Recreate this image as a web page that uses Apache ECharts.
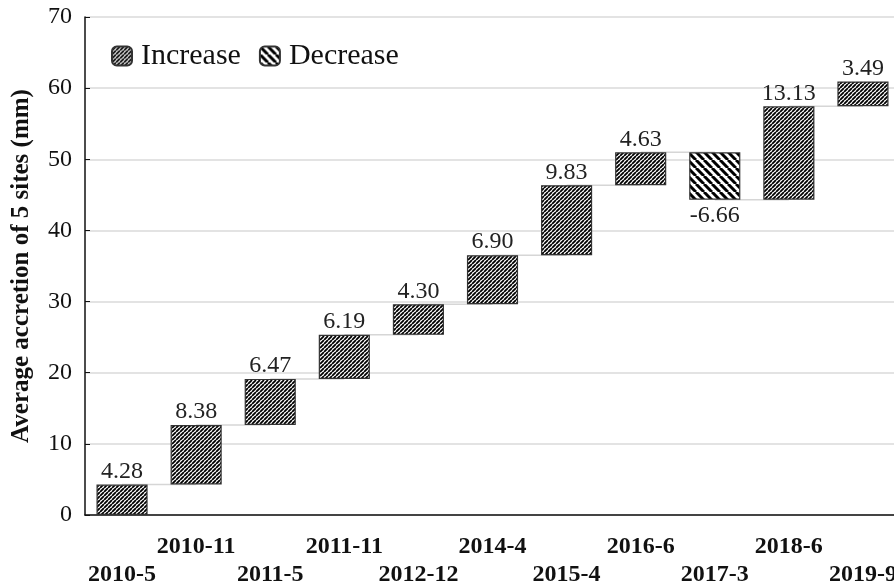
<!DOCTYPE html>
<html>
<head>
<meta charset="utf-8">
<script src="https://cdn.jsdelivr.net/npm/echarts@6/dist/echarts.min.js"></script>
<style>
html,body{margin:0;padding:0;background:#fff;}
#chart{width:894px;height:585px;}
</style>
</head>
<body>
<div id="chart"></div>
<script>
// ---- data ----
const categories = ['2010-5','2010-11','2011-5','2011-11','2012-12','2014-4','2015-4','2016-6','2017-3','2018-6','2019-9'];
const deltas = [4.28, 8.38, 6.47, 6.19, 4.30, 6.90, 9.83, 4.63, -6.66, 13.13, 3.49];
const yTicks = [0, 10, 20, 30, 40, 50, 60, 70];
const legendNames = ['Increase', 'Decrease'];
const yAxisName = 'Average accretion of 5 sites (mm)';

// ---- derived tables for the waterfall ----
const cumulative = [];
let run = 0;
deltas.forEach(d => { run += d; cumulative.push(+run.toFixed(2)); });
const baseVals = deltas.map((d, i) => d >= 0 ? +(cumulative[i] - d).toFixed(2) : cumulative[i]);
const incVals = deltas.map(d => d >= 0 ? d : '-');
const decVals = deltas.map(d => d < 0 ? -d : '-');
const connectors = cumulative.slice(0, -1).map((v, i) => [i, v]);

// ---- hatch patterns ----
function hatch(period, lw, dir) {
  const c = document.createElement('canvas');
  c.width = period; c.height = period;
  const g = c.getContext('2d');
  g.fillStyle = '#ffffff';
  g.fillRect(0, 0, period, period);
  g.strokeStyle = '#000000';
  g.lineWidth = lw;
  g.beginPath();
  for (let k = -1; k <= 1; k++) {
    if (dir === '/') { g.moveTo(k * period, period); g.lineTo(k * period + period, 0); }
    else { g.moveTo(k * period, 0); g.lineTo(k * period + period, period); }
  }
  g.stroke();
  return { image: c, repeat: 'repeat' };
}
const incPattern = hatch(4, 1.8, '/');
const decPattern = hatch(8, 3, '\\');

const serif = '"Liberation Serif", "Times New Roman", serif';
const chart = echarts.init(document.getElementById('chart'));
chart.setOption({
  animation: false,
  backgroundColor: '#ffffff',
  grid: { left: 85, top: 17, width: 815, height: 498, containLabel: false, outerBoundsMode: 'none' },
  legend: {
    data: legendNames,
    left: 106, top: 36,
    itemWidth: 20, itemHeight: 19, itemGap: 18,
    textStyle: { fontFamily: serif, fontSize: 30, color: '#111', padding: [0, 0, 0, 4] }
  },
  xAxis: {
    type: 'category',
    data: categories,
    axisLine: { lineStyle: { color: '#111', width: 1.5 } },
    axisTick: { inside: true, length: 6, lineStyle: { color: '#111', width: 1.2 } },
    axisLabel: {
      interval: 0,
      hideOverlap: false,
      fontFamily: serif, fontWeight: 'bold', fontSize: 24, color: '#111',
      lineHeight: 28, margin: 18,
      formatter: (v, i) => (i % 2 === 0 ? '\n' + v : v + '\n')
    },
    splitLine: { show: false }
  },
  yAxis: {
    type: 'value',
    min: yTicks[0], max: yTicks[yTicks.length - 1], interval: 10,
    name: yAxisName,
    nameLocation: 'middle',
    nameGap: 51,
    nameTextStyle: { fontFamily: serif, fontWeight: 'bold', fontSize: 25, color: '#111' },
    axisLine: { show: true, lineStyle: { color: '#111', width: 1.5 } },
    axisTick: { show: true, inside: true, length: 5, lineStyle: { color: '#111' } },
    axisLabel: { fontFamily: serif, fontSize: 24, color: '#111', margin: 13 },
    splitLine: { lineStyle: { color: '#e3e3e3', width: 2 } }
  },
  series: [
    {
      type: 'custom',
      name: 'connector',
      z: 1,
      silent: true,
      data: connectors,
      encode: { x: 0, y: 1 },
      renderItem: function (params, api) {
        const i = api.value(0), lv = api.value(1);
        const p1 = api.coord([i, lv]);
        const p2 = api.coord([i + 1, lv]);
        return {
          type: 'line',
          shape: { x1: p1[0], y1: p1[1], x2: p2[0], y2: p2[1] },
          style: { stroke: '#d6d6d6', lineWidth: 1.5 }
        };
      }
    },
    {
      type: 'bar', name: 'base', stack: 'w', barWidth: '69%', z: 2,
      silent: true,
      itemStyle: { color: 'rgba(0,0,0,0)', borderWidth: 0 },
      data: baseVals
    },
    {
      type: 'bar', name: 'Increase', stack: 'w', barWidth: '69%', z: 3,
      itemStyle: { color: incPattern, borderColor: '#333', borderWidth: 1.2 },
      label: {
        show: true, position: 'top', distance: 1,
        fontFamily: serif, fontSize: 24, color: '#222',
        formatter: p => deltas[p.dataIndex].toFixed(2)
      },
      data: incVals
    },
    {
      type: 'bar', name: 'Decrease', stack: 'w', barWidth: '69%', z: 3,
      itemStyle: { color: decPattern, borderColor: '#333', borderWidth: 1.2 },
      label: {
        show: true, position: 'bottom', distance: 4,
        fontFamily: serif, fontSize: 24, color: '#222',
        formatter: p => deltas[p.dataIndex].toFixed(2)
      },
      data: decVals
    }
  ]
});
</script>
</body>
</html>
